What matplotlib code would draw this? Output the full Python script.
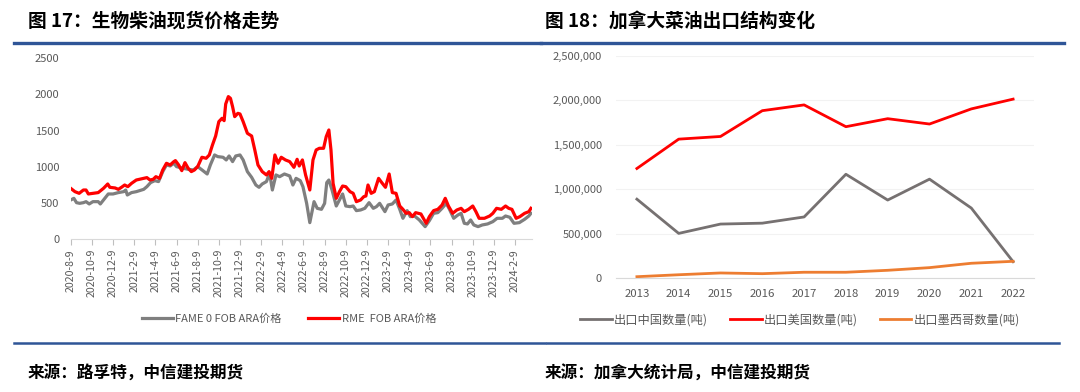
import matplotlib
matplotlib.use('Agg')
import matplotlib.pyplot as plt
from matplotlib.lines import Line2D
from matplotlib.ticker import FuncFormatter

plt.rcParams['font.family'] = ['Noto Sans CJK SC', 'DejaVu Sans']

# ---- left chart data: months since 2020-8-9, price
fame_m = [0.0, 0.3, 0.55, 0.85, 1.2, 1.45, 1.75, 2.1, 2.6, 2.8, 3.1, 3.55, 4.0, 4.5, 5.0, 5.2, 5.35, 5.75,
          6.2, 6.9, 7.2, 7.55, 7.95, 8.3, 8.7, 9.05, 9.4, 9.75, 10.0, 10.6, 11.1, 11.6, 12.0, 12.5, 12.9,
          13.2, 13.6, 13.9, 14.4, 14.7, 14.97, 15.3, 15.6, 16.0, 16.3, 16.7, 17.1, 17.5, 17.8, 18.1, 18.5,
          18.8, 19.06, 19.4, 19.75, 20.2, 20.7, 21.0, 21.3, 21.7, 21.95, 22.3, 22.6, 23.0, 23.3, 23.7, 24.0,
          24.2, 24.4, 24.7, 25.1, 25.4, 25.7, 26.0, 26.4, 26.7, 27.0, 27.4, 27.8, 28.2, 28.6, 28.9, 29.2,
          29.7, 30.0, 30.4, 30.75, 31.1, 31.4, 31.8, 32.1, 32.5, 32.95, 33.5, 33.9, 34.3, 34.7, 35.1, 35.5,
          35.8, 36.2, 36.6, 36.9, 37.2, 37.5, 37.8, 38.1, 38.5, 38.9, 39.4, 39.9, 40.3, 40.8, 41.1, 41.5,
          41.9, 42.4, 42.9, 43.3, 43.5]
fame_v = [543, 566, 506, 497, 506, 520, 488, 520, 520, 488, 543, 626, 626, 645, 658, 681, 612, 645,
          658, 690, 727, 783, 810, 797, 935, 1027, 1013, 1050, 1004, 981, 967, 958, 1004, 948, 902,
          1027, 1165, 1142, 1133, 1096, 1151, 1073, 1151, 1165, 1096, 935, 856, 750, 718, 764, 797,
          912, 681, 889, 865, 902, 875, 750, 842, 810, 727, 497, 230, 520, 428, 414, 497,
          783, 819, 681, 460, 543, 626, 460, 451, 460, 396, 405, 428, 506, 428, 451, 497,
          382, 474, 488, 543, 414, 290, 396, 313, 322, 267, 175, 258, 359, 368, 428, 497,
          414, 290, 336, 359, 221, 212, 267, 198, 175, 198, 212, 244, 290, 290, 322, 304,
          221, 230, 276, 322, 359]

rme_m = [0.0, 0.4, 0.8, 1.2, 1.45, 1.67, 2.1, 2.6, 3.1, 3.5, 3.7, 4.2, 4.5, 4.8, 5.1, 5.4, 5.75, 6.2,
         6.9, 7.2, 7.5, 7.8, 8.05, 8.4, 8.7, 9.05, 9.4, 9.75, 9.9, 10.2, 10.5, 10.8, 11.1, 11.4, 11.7,
         12.0, 12.4, 12.8, 13.1, 13.4, 13.7, 14.0, 14.3, 14.5, 14.65, 14.9, 15.1, 15.3, 15.5, 15.8, 16.0,
         16.3, 16.7, 17.1, 17.4, 17.7, 18.1, 18.5, 18.75, 19.0, 19.3, 19.6, 19.9, 20.3, 20.7, 21.1, 21.4,
         21.6, 21.9, 22.2, 22.6, 22.9, 23.2, 23.5, 23.9, 24.15, 24.4, 24.6, 24.8, 25.1, 25.4, 25.7, 26.0,
         26.4, 26.7, 27.0, 27.4, 27.7, 27.9, 28.1, 28.4, 28.7, 29.1, 29.4, 29.75, 30.1, 30.4, 30.75, 31.1,
         31.4, 31.7, 32.0, 32.3, 32.6, 33.1, 33.6, 33.9, 34.3, 34.7, 35.1, 35.4, 35.7, 36.1, 36.5, 36.9,
         37.2, 37.6, 38.0, 38.3, 38.6, 39.1, 39.6, 39.9, 40.25, 40.7, 41.1, 41.4, 41.7, 42.1, 42.45, 42.9,
         43.3, 43.5]
rme_v = [704, 658, 635, 681, 681, 626, 635, 645, 704, 764, 718, 709, 690, 718, 750, 727, 773, 819,
         842, 852, 819, 829, 865, 842, 958, 1050, 1027, 1073, 1087, 1027, 948, 1059, 981, 935, 958,
         1004, 1133, 1119, 1165, 1303, 1427, 1625, 1671, 1639, 1869, 1971, 1947, 1832, 1694, 1740, 1731,
         1625, 1464, 1427, 1234, 1027, 935, 889, 935, 842, 1165, 1050, 1133, 1096, 1073, 994, 1105,
         1013, 1096, 889, 681, 1096, 1234, 1257, 1257, 1418, 1510, 1234, 773, 566, 658, 736, 727,
         658, 635, 520, 543, 589, 598, 750, 635, 658, 842, 783, 718, 902, 645, 635, 460,
         414, 359, 368, 313, 368, 350, 221, 313, 396, 414, 474, 566, 460, 359, 405, 428,
         382, 414, 460, 382, 290, 290, 322, 359, 428, 414, 460, 428, 414, 290, 313, 359,
         382, 428]

date_labels = ['2020-8-9', '2020-10-9', '2020-12-9', '2021-2-9', '2021-4-9', '2021-6-9', '2021-8-9',
               '2021-10-9', '2021-12-9', '2022-2-9', '2022-4-9', '2022-6-9', '2022-8-9', '2022-10-9',
               '2022-12-9', '2023-2-9', '2023-4-9', '2023-6-9', '2023-8-9', '2023-10-9', '2023-12-9',
               '2024-2-9']

# ---- right chart data
years = ['2013', '2014', '2015', '2016', '2017', '2018', '2019', '2020', '2021', '2022']
china = [890000, 505000, 610000, 620000, 690000, 1170000, 880000, 1115000, 790000, 187000]
usa = [1235000, 1565000, 1595000, 1885000, 1950000, 1705000, 1795000, 1735000, 1905000, 2015000]
mexico = [18000, 40000, 60000, 52000, 68000, 68000, 90000, 120000, 169000, 191000]

GRAY = '#767171'
RED = '#FF0000'
ORANGE = '#ED7D31'
TXT = '#595959'
W, H = 1080, 392

fig = plt.figure(figsize=(10.8, 3.92), dpi=100)

# left chart
ax1 = fig.add_axes([70.7 / W, 152.7 / H, (532 - 70.7) / W, (333.7 - 152.7) / H])
l1, = ax1.plot(fame_m, fame_v, color='#7F7F7F', lw=2.3, solid_joinstyle='round')
l2, = ax1.plot(rme_m, rme_v, color=RED, lw=2.3, solid_joinstyle='round')
ax1.set_xlim(0, 43.6)
ax1.set_ylim(0, 2500)
ax1.set_yticks(range(0, 2501, 500))
ax1.set_xticks(range(0, 43, 2))
ax1.set_xticklabels(date_labels, rotation=90, va='top', ha='center')
for s in ['top', 'right', 'left']:
    ax1.spines[s].set_visible(False)
ax1.spines['bottom'].set_color('#D9D9D9')
ax1.tick_params(axis='y', length=0, pad=8, labelsize=8, labelcolor=TXT)
ax1.tick_params(axis='x', length=4, color='#BFBFBF', pad=3, labelsize=7.6, labelcolor=TXT)
fig.legend([l1, l2], ['FAME 0 FOB ARA价格', 'RME  FOB ARA价格'], loc='center',
           bbox_to_anchor=(289 / W, 1 - 319 / H), ncol=2, frameon=False, fontsize=8,
           handlelength=2.8, handletextpad=0.2, columnspacing=2.4, labelcolor=TXT)

# right chart
ax2 = fig.add_axes([616 / W, 113.7 / H, (1034 - 616) / W, (336 - 113.7) / H])
x = list(range(len(years)))
r1, = ax2.plot(x, china, color=GRAY, lw=2.0)
r2, = ax2.plot(x, usa, color=RED, lw=2.0)
r3, = ax2.plot(x, mexico, color=ORANGE, lw=2.0)
ax2.set_xlim(-0.5, len(years) - 0.5)
ax2.set_ylim(0, 2500000)
ax2.set_yticks(range(0, 2500001, 500000))
ax2.yaxis.set_major_formatter(FuncFormatter(lambda v, p: f'{int(v):,}'))
ax2.set_xticks(x)
ax2.set_xticklabels(years)
ax2.grid(axis='y', color='#F2F2F2', lw=0.8)
ax2.set_axisbelow(True)
for s in ['top', 'right', 'left']:
    ax2.spines[s].set_visible(False)
ax2.spines['bottom'].set_color('#D9D9D9')
ax2.tick_params(axis='y', length=0, pad=10, labelsize=8, labelcolor=TXT)
ax2.tick_params(axis='x', length=0, pad=8, labelsize=8.2, labelcolor=TXT)
fig.legend([r1, r2, r3], ['出口中国数量(吨)', '出口美国数量(吨)', '出口墨西哥数量(吨)'], loc='center',
           bbox_to_anchor=(800 / W, 1 - 320 / H), ncol=3, frameon=False, fontsize=8.8,
           handlelength=2.6, handletextpad=0.15, columnspacing=1.8, labelcolor=TXT)

# titles, rules, sources
fig.text(28 / W, 1 - 21 / H, '图 17：生物柴油现货价格走势', fontsize=13.5, weight='bold', va='center')
fig.text(545 / W, 1 - 21 / H, '图 18：加拿大菜油出口结构变化', fontsize=13.5, weight='bold', va='center')
for xa, xb in [(14, 541), (541, 1064)]:
    fig.add_artist(Line2D([xa / W, xb / W], [1 - 43 / H] * 2, color='#2F5597', lw=2.4))
for xa, xb in [(14, 545), (547, 1059)]:
    fig.add_artist(Line2D([xa / W, xb / W], [1 - 343 / H] * 2, color='#2F5597', lw=1.8))
fig.text(28 / W, 1 - 374 / H, '来源：路孚特，中信建投期货', fontsize=12, weight='bold', va='center')
fig.text(545 / W, 1 - 374 / H, '来源：加拿大统计局，中信建投期货', fontsize=12, weight='bold', va='center')

fig.savefig('out.png', dpi=100, facecolor='white')
